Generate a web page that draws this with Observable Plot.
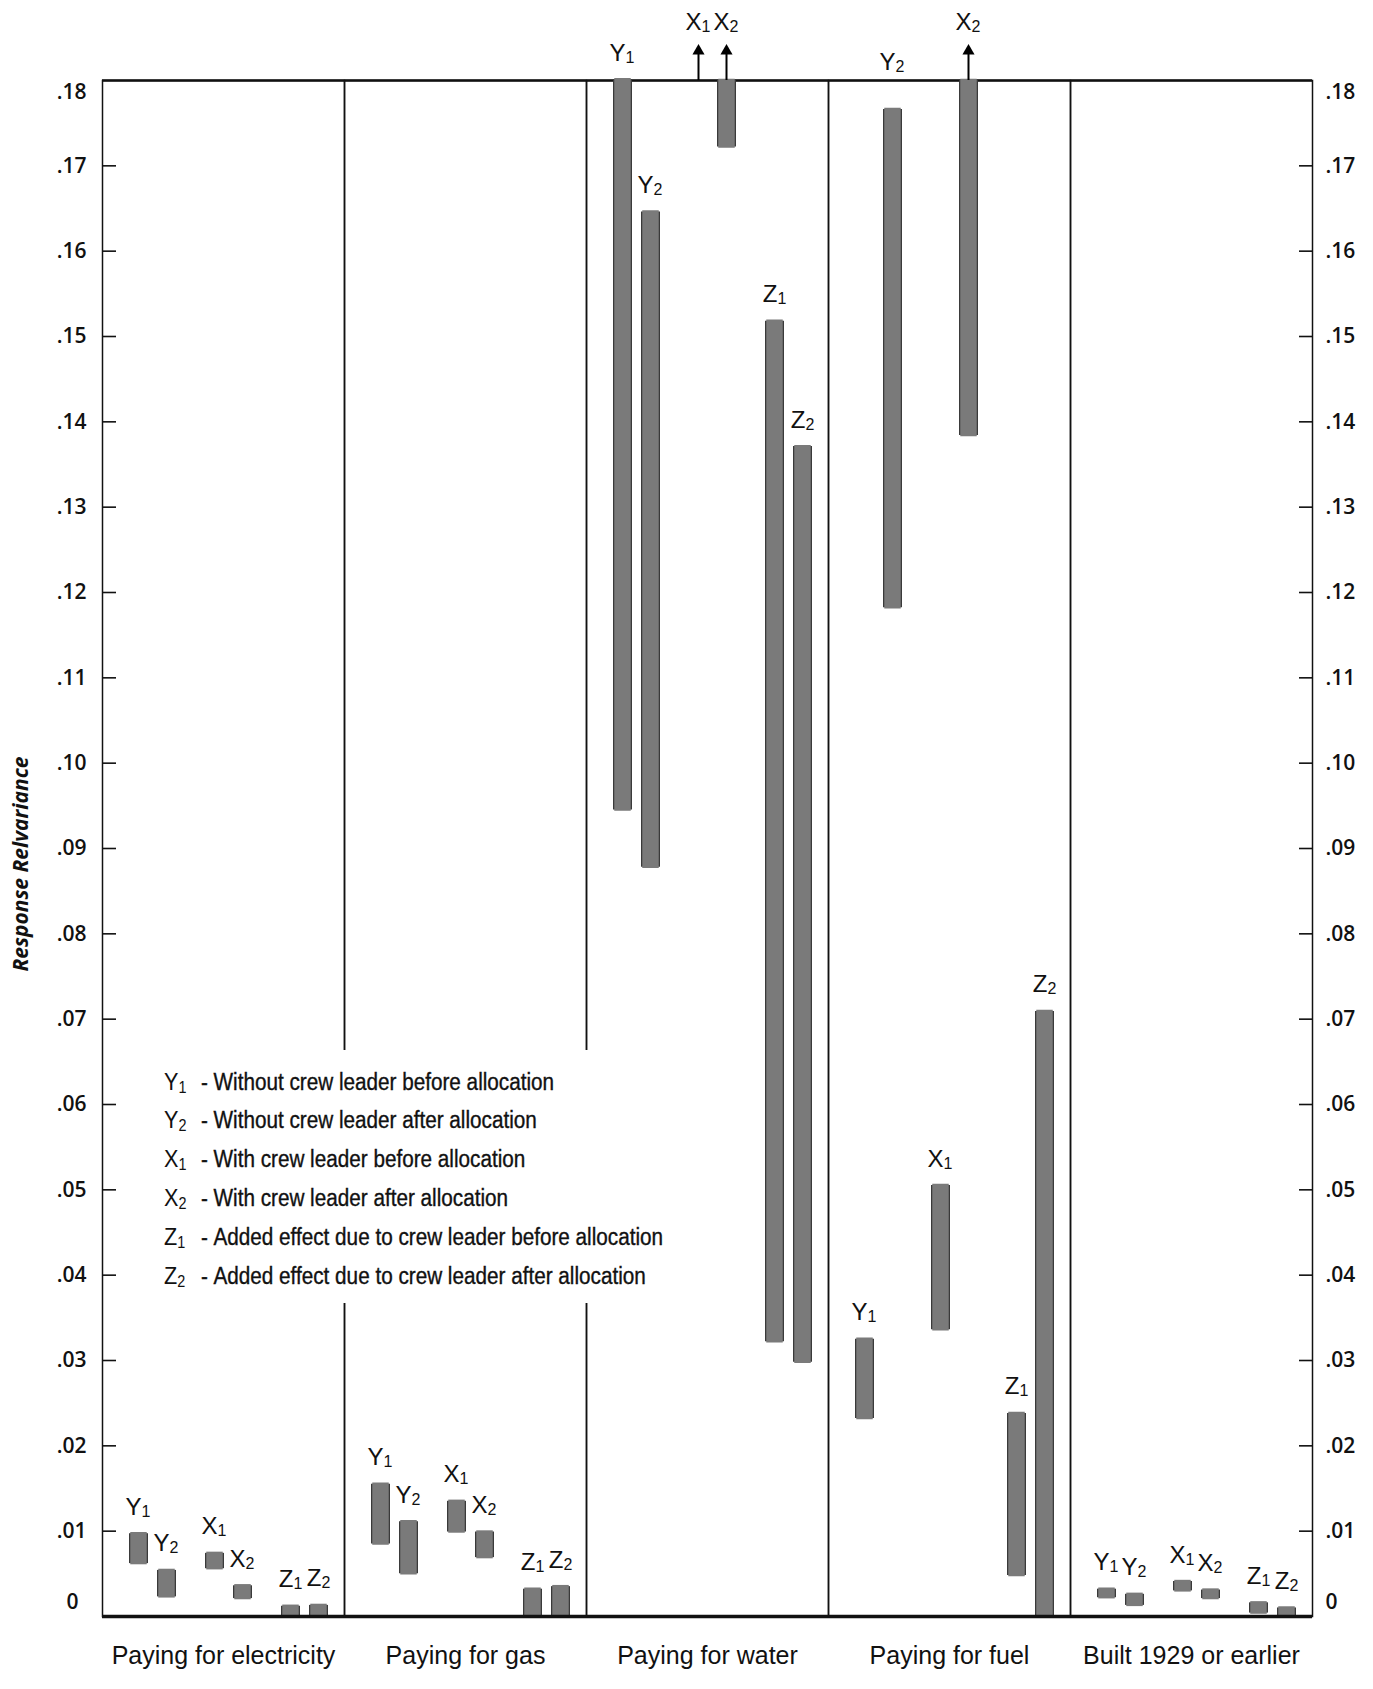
<!DOCTYPE html>
<html>
<head>
<meta charset="utf-8">
<script src="https://cdn.jsdelivr.net/npm/d3@7"></script>
<script src="https://cdn.jsdelivr.net/npm/@observablehq/plot@0.6"></script>
<style>
  body { margin: 0; background: #fff; }
  #wrap { position: relative; width: 1373px; height: 1689px; overflow: hidden; }
  #legend { position: absolute; left: 155px; top: 1050px; width: 520px; height: 253px; background: #fff;
            box-sizing: border-box; padding: 12.6px 0 0 9px; color: #111; white-space: nowrap;
            font-family: "Liberation Sans", Arial, sans-serif; font-size: 23px; line-height: 38.8px;
            -webkit-text-stroke: 0.35px #111; }
  #legend .row { transform: scaleX(0.9); transform-origin: 0 50%; }
  #legend .k { display: inline-block; width: 41px; font-size: 24px; -webkit-text-stroke: 0; }
  #legend .k sub { font-size: 16px; vertical-align: -3px; line-height: 0; }
  #legend .d { display: inline-block; width: 14px; }
  #ytitle { position: absolute; left: 20px; top: 864px; transform: translate(-50%, -50%) rotate(-90deg);
            white-space: nowrap; font: italic 700 21px "Open Sans", sans-serif; color: #111; }
</style>
</head>
<body>
<div id="wrap"></div>
<script>
// ---- data ----
const categories = ["Paying for electricity", "Paying for gas", "Paying for water", "Paying for fuel", "Built 1929 or earlier"];
const series = ["Y1", "Y2", "X1", "X2", "Z1", "Z2"];
const legendText = [
  "Without crew leader before allocation",
  "Without crew leader after allocation",
  "With crew leader before allocation",
  "With crew leader after allocation",
  "Added effect due to crew leader before allocation",
  "Added effect due to crew leader after allocation"
];
// bottom / top of each range bar, in the order of `series`; a null top runs off the chart (arrow)
const electricityLow  = [0.0062, 0.0023, 0.0056, 0.0021, 0, 0];
const electricityHigh = [0.0097, 0.0054, 0.0074, 0.0036, 0.0012, 0.0013];
const gasLow  = [0.0085, 0.0050, 0.0099, 0.0069, 0, 0];
const gasHigh = [0.0155, 0.0111, 0.0135, 0.0099, 0.0032, 0.0035];
const waterLow  = [0.0945, 0.0878, null, 0.1722, 0.0322, 0.0298];
const waterHigh = [0.1801, 0.1646, null, null, 0.1518, 0.1371];
const fuelLow  = [0.0232, 0.1182, 0.0336, 0.1384, 0.0048, 0];
const fuelHigh = [0.0325, 0.1766, 0.0505, null, 0.0238, 0.0709];
const builtLow  = [0.0022, 0.0013, 0.0030, 0.0021, 0.0004, 0.0001];
const builtHigh = [0.0032, 0.0026, 0.0041, 0.0031, 0.0016, 0.0010];

const yTickValues = [0.01, 0.02, 0.03, 0.04, 0.05, 0.06, 0.07, 0.08, 0.09, 0.10, 0.11, 0.12, 0.13, 0.14, 0.15, 0.16, 0.17];
const yZero = [0];
const yMax = [0.18];
const yTitle = "Response Relvariance";

// ---- build table ----
const lows = [electricityLow, gasLow, waterLow, fuelLow, builtLow];
const highs = [electricityHigh, gasHigh, waterHigh, fuelHigh, builtHigh];
const TOP = yMax[0];
const ARROW = 0.0037;
const rows = [];
categories.forEach((c, i) => series.forEach((s, j) => {
  const off = highs[i][j] === null;
  rows.push({category: c, series: s, letter: s[0], digit: s[1], group: s[0], sub: +s[1],
             low: lows[i][j], high: highs[i][j], off, top: off ? TOP : highs[i][j]});
}));

const sans = '"Liberation Sans", Arial, sans-serif';
const gothic = '"Open Sans", "DejaVu Sans", sans-serif';
const fmt = d => d === 0 ? "0" : d3.format(".2f")(d).replace(/^0/, "");
const SUB = 14;

function seriesMarks(k) {
  const dx = k === 1 ? -SUB : SUB;
  const all = rows.filter(r => r.sub === k);
  const bars = all.filter(r => r.low !== null);
  const offs = all.filter(r => r.off);
  // labels sit above the bar; a bar ending just under the top frame gets its label lifted clear of the line
  const labelY = r => r.off ? TOP + ARROW : (r.high > TOP - 0.006 ? Math.max(r.high, TOP - 0.001) : r.high);
  return [
    Plot.ruleX(bars, {fx: "category", x: "group", y1: "low", y2: "top", stroke: "#3a3a3a", strokeWidth: 19, dx}),
    Plot.ruleX(bars, {fx: "category", x: "group", y1: "low", y2: "top", stroke: "#7a7a7a", strokeWidth: 16.5, insetTop: 1.2, insetBottom: 1.2, dx}),
    Plot.ruleX(offs, {fx: "category", x: "group", y1: () => TOP, y2: () => TOP + ARROW, stroke: "#000", strokeWidth: 2, dx}),
    Plot.dot(offs, {fx: "category", x: "group", y: () => TOP + ARROW, symbol: "triangle", r: 4.5, fill: "#000", stroke: null, dx, dy: 2}),
    Plot.text(all, {fx: "category", x: "group", y: labelY, text: "letter", textAnchor: "end", dx: dx + 3, dy: -19, lineAnchor: "bottom", fontSize: 24, fontFamily: sans, fill: "#111"}),
    Plot.text(all, {fx: "category", x: "group", y: labelY, text: "digit", textAnchor: "start", dx: dx + 3, dy: -17, lineAnchor: "bottom", fontSize: 16, fontFamily: sans, fill: "#111"})
  ];
}

const tickText = {tickSize: 0, tickFormat: fmt, fontSize: 21, fontFamily: gothic, fontWeight: 600, label: null};

const chart = Plot.plot({
  width: 1373,
  height: 1689,
  marginLeft: 100,
  marginRight: 59,
  marginTop: 80,
  marginBottom: 73,
  style: {background: "white", color: "#111"},
  fx: {domain: categories, padding: 0},
  x: {type: "point", domain: ["Y", "X", "Z"], padding: 0.587, align: 0.56, axis: null},
  y: {domain: [0, TOP]},
  marks: [
    Plot.frame({stroke: "#111", strokeWidth: 1.5}),
    Plot.ruleY(yMax, {stroke: "#111", strokeWidth: 2.4}),
    ...seriesMarks(1),
    ...seriesMarks(2),
    Plot.ruleY(yZero, {stroke: "#111", strokeWidth: 3.5}),
    Plot.axisY(yTickValues, {anchor: "left", tickSize: 14, insetLeft: 14, tickFormat: () => "", label: null, strokeWidth: 1.6}),
    Plot.axisY(yTickValues, {anchor: "right", tickSize: 14, insetRight: 14, tickFormat: () => "", label: null, strokeWidth: 1.6}),
    Plot.axisY(yTickValues, {anchor: "left", tickPadding: 16, ...tickText}),
    Plot.axisY(yTickValues, {anchor: "right", tickPadding: 13, ...tickText}),
    Plot.axisY(yZero, {anchor: "left", tickPadding: 24, dy: -14, ...tickText}),
    Plot.axisY(yZero, {anchor: "right", tickPadding: 13, dy: -14, ...tickText}),
    Plot.axisY(yMax, {anchor: "left", tickPadding: 16, dy: 12, ...tickText}),
    Plot.axisY(yMax, {anchor: "right", tickPadding: 13, dy: 12, ...tickText}),
    Plot.axisFx({anchor: "bottom", tickSize: 0, tickPadding: 30, fontSize: 25, fontFamily: sans, label: null})
  ]
});

const wrap = document.getElementById("wrap");
wrap.appendChild(chart);

// legend (white box over the chart, as in the original)
const legend = document.createElement("div");
legend.id = "legend";
series.forEach((s, i) => {
  const row = document.createElement("div");
  row.className = "row";
  row.innerHTML = `<span class="k">${s[0]}<sub>${s[1]}</sub></span><span class="d">-</span>${legendText[i]}`;
  legend.appendChild(row);
});
wrap.appendChild(legend);

const title = document.createElement("div");
title.id = "ytitle";
title.textContent = yTitle;
wrap.appendChild(title);
</script>
</body>
</html>
